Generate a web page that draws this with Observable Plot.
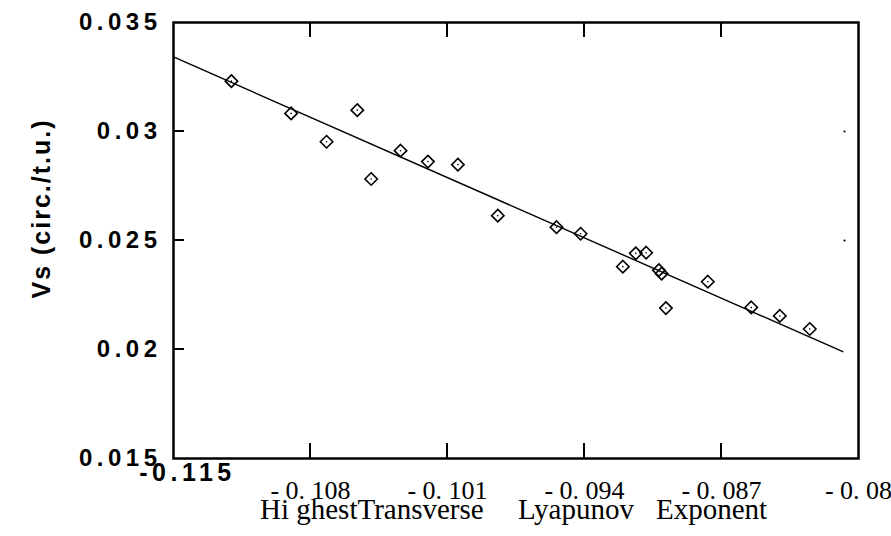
<!DOCTYPE html>
<html><head><meta charset="utf-8">
<script src="https://cdn.jsdelivr.net/npm/d3@7"></script>
<script src="https://cdn.jsdelivr.net/npm/@observablehq/plot@0.6"></script>
<style>
body{margin:0;background:#fff}
svg{display:block}
g[aria-label="y-axis tick label"] text{letter-spacing:4.5px}
g.bold-x text{letter-spacing:4.5px}
g.ytitle text{letter-spacing:2px}
</style>
</head><body><div id="chart"></div>
<script>
// Highest transverse Lyapunov exponent (x) vs. Vs in circ./t.u. (y)
const xValues = [-0.11204, -0.10899, -0.10718, -0.10561, -0.10490, -0.10340, -0.10200, -0.10047,
  -0.09843, -0.09543, -0.09420, -0.09204, -0.09138, -0.09085, -0.09020, -0.09006, -0.08984,
  -0.08770, -0.08548, -0.08402, -0.08249];
const yValues = [0.03231, 0.03083, 0.02953, 0.03098, 0.02782, 0.02912, 0.02862, 0.02848,
  0.02614, 0.02561, 0.02531, 0.02380, 0.02441, 0.02444, 0.02364, 0.02348, 0.02190,
  0.02311, 0.02193, 0.02154, 0.02094];
// fitted straight line (end points)
const fitX = [-0.115, -0.0808];
const fitY = [0.03342, 0.0199];

const xTicks = [-0.115, -0.108, -0.101, -0.094, -0.087, -0.08];
const xTickLabels = ["-0.115", "- 0. 108", "- 0. 101", "- 0. 094", "- 0. 087", "- 0. 08"];
const yTicks = [0.015, 0.02, 0.025, 0.03, 0.035];
const yTickLabels = ["0.015", "0.02", "0.025", "0.03", "0.035"];
const xTitleParts = ["Hi ghestTransverse", "Lyapunov", "Exponent"];
const yTitle = "Vs (circ./t.u.)";

(function () {
const points = xValues.map((x, i) => ({x, y: yValues[i]}));
const fit = fitX.map((x, i) => ({x, y: fitY[i]}));
const sans = "'Liberation Sans', Arial, Helvetica, sans-serif";
const serif = "'Liberation Serif', 'Times New Roman', serif";
const innerX = xTicks.slice(1, 5);
const innerY = yTicks.slice(1, 4);
const xLab = d => xTickLabels[xTicks.indexOf(d)];
const yLab = d => yTickLabels[yTicks.indexOf(d)];

const W = 891, H = 536, ML = 173, MR = 33, MT = 22, MB = 78;

const chart = Plot.plot({
  width: W, height: H,
  marginLeft: ML, marginRight: MR, marginTop: MT, marginBottom: MB,
  x: {domain: [-0.115, -0.08], axis: null},
  y: {domain: [0.015, 0.035], axis: null},
  style: {background: "#fff", color: "#000", overflow: "visible"},
  marks: [
    Plot.line(fit, {x: "x", y: "y", stroke: "#000", strokeWidth: 1.4}),
    Plot.dot(points, {x: "x", y: "y", symbol: "diamond2", r: 5.6, stroke: "#000", strokeWidth: 1.6, fill: "none"}),
    Plot.dot(points, {x: "x", y: "y", r: 0.8, fill: "#000", stroke: "none"}),
    Plot.dot(yTicks.slice(2, 4), {y: d => d, frameAnchor: "right", dx: -14, r: 1.1, fill: "#000"}),
    Plot.frame({stroke: "#000", strokeWidth: 2.5}),
    // tick labels
    Plot.axisY({anchor: "left", ticks: yTicks, tickSize: 0, tickPadding: 12, tickFormat: yLab, label: null,
      fontFamily: sans, fontWeight: "bold", fontSize: 24}),
    Plot.axisX({anchor: "bottom", ticks: xTicks.slice(0, 1), tickSize: 0, tickPadding: 5, tickFormat: xLab, label: null,
      fontFamily: sans, fontWeight: "bold", fontSize: 25, dx: 14, className: "bold-x"}),
    Plot.axisX({anchor: "bottom", ticks: xTicks.slice(1), tickSize: 0, tickPadding: 22, tickFormat: xLab, label: null,
      fontFamily: serif, fontSize: 26}),
    // axis titles
    Plot.text([yTitle], {frameAnchor: "left", rotate: -90, dx: -132, dy: -32, text: d => d,
      fontFamily: sans, fontWeight: "bold", fontSize: 25, textAnchor: "middle", className: "ytitle"}),
    Plot.text([xTitleParts[0]], {frameAnchor: "bottom", dx: -256, dy: 60, text: d => d, textAnchor: "start",
      fontFamily: serif, fontSize: 29}),
    Plot.text([xTitleParts[1]], {frameAnchor: "bottom", dx: 2, dy: 60, text: d => d, textAnchor: "start",
      fontFamily: serif, fontSize: 29}),
    Plot.text([xTitleParts[2]], {frameAnchor: "bottom", dx: 140, dy: 60, text: d => d, textAnchor: "start",
      fontFamily: serif, fontSize: 29})
  ]
});

// inward tick marks placed through the plot's own scales
const sx = chart.scale("x"), sy = chart.scale("y");
const fx = sx.apply ? v => sx.apply(v) : d3.scaleLinear(sx.domain, sx.range);
const fy = sy.apply ? v => sy.apply(v) : d3.scaleLinear(sy.domain, sy.range);
const svgEl = chart.tagName.toLowerCase() === "svg" ? chart : chart.querySelector("svg");
const g = d3.select(svgEl).append("g").attr("aria-label", "inner ticks");
const yTop = MT, yBottom = H - MB, xLeft = ML;
for (const v of innerX) {
  const px = fx(v);
  g.append("path").attr("d", `M${px},${yBottom}V${yBottom - 15}`).attr("stroke", "#000").attr("stroke-width", 2);
  g.append("path").attr("d", `M${px},${yTop}V${yTop + 15}`).attr("stroke", "#000").attr("stroke-width", 2);
}
for (const v of innerY) {
  const py = fy(v);
  g.append("path").attr("d", `M${xLeft},${py}H${xLeft + 11}`).attr("stroke", "#000").attr("stroke-width", 2);
}
document.getElementById("chart").appendChild(chart);
})();
</script>
</body></html>
